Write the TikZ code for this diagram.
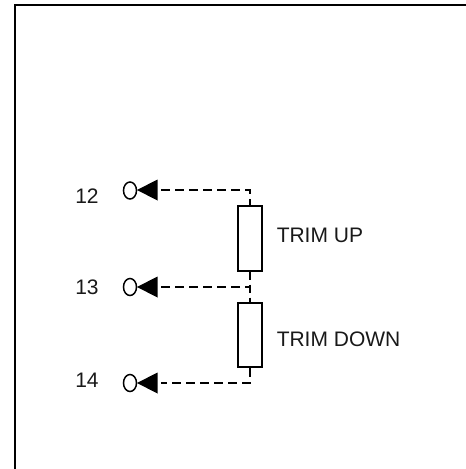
\documentclass[tikz,border=0pt]{standalone}
\usepackage{fontspec}
\usetikzlibrary{shapes.geometric}
\setmainfont{Liberation Sans}
\begin{document}
\begin{tikzpicture}[x=1pt,y=-1pt,
  line width=1.5pt,
  dashline/.style={line width=1.8pt,dash pattern=on 9pt off 5pt},
  term/.style={ellipse,draw,line width=1.5pt,minimum width=13pt,minimum height=17pt,inner sep=0pt},
  res/.style={rectangle,draw,line width=1.7pt,minimum width=24pt,minimum height=64.5pt,inner sep=0pt,fill=white},
  lab/.style={inner sep=0pt,font=\fontsize{21}{24}\selectfont,text=black!90}]
\useasboundingbox (0,0) rectangle (466,469);
\fill[white] (0,0) rectangle (466,469);
\draw[line width=2pt] (14.5,469) -- (14.5,5) -- (466,5);
% terminals
\node[term] (t12) at (130,190.5) {};
\node[term] (t13) at (130,287) {};
\node[term] (t14) at (130,383) {};
% arrowheads
\foreach \n/\yy in {a12/190,a13/287,a14/383}{
  \coordinate (\n) at (161,\yy);
  \fill (137,\yy) -- (157.5,\yy-10.5) -- (157.5,\yy+10.5) -- cycle;
}
% resistors
\coordinate (c12) at (250,190);
\coordinate (c13) at (250,287);
\coordinate (c14) at (250,383);
\node[res] (r1) at (250,238.5) {};
\node[res] (r2) at (250,335) {};
\draw[dashline] (a12) -- (c12) -- (r1.north);
\draw[dashline] (a13) -- (c13);
\draw[line width=1.8pt,dash pattern=on 8pt off 5pt] (r1.south) -- (r2.north);
\draw[dashline] (r2.south) -- (c14) -- (a14);
% labels
\node[lab] (l12) at (87,196.5) {12};
\node[lab] (l13) at (87,287.5) {13};
\node[lab] (l14) at (87,380) {14};
\node[lab,anchor=west] (lu) at (276,235) {TRIM UP};
\node[lab,anchor=west] (ld) at (276,339) {TRIM DOWN};
\end{tikzpicture}
\end{document}
